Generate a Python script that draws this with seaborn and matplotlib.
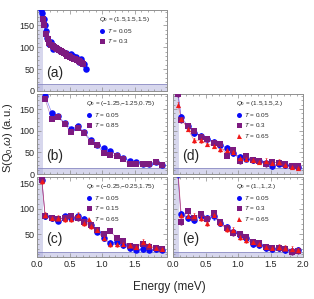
import matplotlib
matplotlib.use('Agg')
import matplotlib.pyplot as plt
import seaborn as sns
import pandas as pd
from matplotlib.lines import Line2D
from matplotlib.ticker import MultipleLocator

sns.set_style('ticks')
plt.rcParams['font.family'] = ['Liberation Sans', 'DejaVu Sans']
plt.rcParams['mathtext.fontset'] = 'custom'
plt.rcParams['mathtext.rm'] = 'Liberation Sans'
plt.rcParams['mathtext.it'] = 'Liberation Sans:italic'

BLUE = '#0a0af8'
PURPLE = '#7d1a80'
RED = '#f01818'

# ---- panel (a) ----
e_a_blue = [0.06, 0.08, 0.10, 0.12, 0.14, 0.16, 0.18, 0.22, 0.24, 0.28, 0.32,
            0.36, 0.40, 0.44, 0.48, 0.52, 0.56, 0.60, 0.64, 0.68, 0.72, 0.75]
s_a_blue = [188, 178, 165, 150, 136, 120, 108, 113, 95, 100, 96,
            92, 89, 86, 82, 85, 80, 78, 67, 72, 62, 50]
e_a_purple = [0.09, 0.115, 0.14, 0.165, 0.19, 0.215, 0.24, 0.265, 0.29, 0.315,
              0.34, 0.365, 0.39, 0.415, 0.44, 0.465, 0.49, 0.515, 0.54, 0.565,
              0.59, 0.615, 0.64, 0.665, 0.69, 0.715]
s_a_purple = [165, 150, 130, 118, 110, 106, 103, 100, 98, 96,
              93, 91, 89, 86, 84, 81, 79, 77, 75, 73,
              72, 70, 68, 66, 64, 62]

# ---- panel (b) ----
e_b = [0.125, 0.225, 0.325, 0.425, 0.525, 0.625, 0.725, 0.825, 0.925, 1.025,
       1.125, 1.225, 1.325, 1.425, 1.525, 1.625, 1.725, 1.825, 1.925]
s_b_blue = [181, 142, 133, 119, 105, 111, 98, 78, 68, 59,
            53, 45, 36, 31, 27, 24, 24, 27, 21]
s_b_purple = [173, 127, 131, 116, 96, 107, 94, 75, 67, 49,
              45, 41, 34, 22, 22, 22, 23, 28, 20]

# ---- panels (c), (d), (e) share one energy grid ----
e_cde = [0.075, 0.125, 0.225, 0.325, 0.425, 0.525, 0.625, 0.725, 0.825, 0.925,
         1.025, 1.125, 1.225, 1.325, 1.425, 1.525, 1.625, 1.725, 1.825, 1.925]
s_c_blue = [158, 85, 82, 77, 85, 83, 85, 80, 68, 55,
            42, 33, 35, 28, 22, 19, 20, 19, 20, 19]
s_c_purple = [158, 86, 83, 80, 83, 85, 82, 75, 68, 58,
              50, 57, 42, 36, 27, 25, 30, 25, 22, 20]
s_c_red = [155, 88, 82, 82, 80, 80, 88, 72, 66, 58,
           42, 30, 30, 30, 28, 25, 35, 28, 22, 20]

s_d_blue = [192, 132, 112, 95, 88, 82, 75, 68, 60, 48,
            40, 35, 33, 30, 25, 18, 24, 20, 18, 16]
s_d_purple = [185, 125, 110, 100, 85, 80, 72, 70, 42, 55,
              30, 42, 32, 30, 22, 28, 25, 22, 18, 18]
s_d_red = [160, 128, 105, 78, 78, 70, 65, 58, 55, 50,
           38, 35, 32, 28, 30, 25, 28, 20, 17, 15]

s_e_blue = [168, 90, 82, 78, 85, 82, 85, 72, 65, 55,
            48, 42, 30, 28, 22, 20, 22, 18, 17, 18]
s_e_purple = [175, 75, 95, 82, 90, 80, 92, 75, 62, 52,
              50, 45, 35, 32, 25, 22, 22, 20, 15, 16]
s_e_red = [180, 88, 85, 85, 82, 72, 88, 72, 60, 58,
           45, 38, 35, 30, 24, 22, 24, 22, 20, 18]

q_titles = ['(1.5,1.5,1.5)', '(\u22121.25,\u22121.25,0.75)', '(\u22120.25,\u22120.25,1.75)',
            '(1.5,1.5,2.)', '(1.,1.,2.)']
temps_a = ['0.05', '0.3']
temps_b = ['0.05', '0.85']
temps_c = ['0.05', '0.15', '0.65']
temps_d = ['0.05', '0.3', '0.65']
temps_e = ['0.05', '0.3', '0.65']

STYLE = [(BLUE, 'o', 22), (PURPLE, 's', 16), (RED, '^', 14)]

W, H = 314, 299
fig = plt.figure(figsize=(W / 100, H / 100), dpi=100)


def box(l, t, r, b):
    return [l / W, 1 - b / H, (r - l) / W, (b - t) / H]


def panel(rect, series, temps, title, label, ylim, err, ylabels=True, xlabels=None,
          lx=0.45):
    ax = fig.add_axes(rect)
    ax.axvspan(0, 0.09, color='#a8a8d8', alpha=0.45, lw=0, zorder=0)
    ax.axhspan(ylim[0], 15, color='#a8a8d8', alpha=0.45, lw=0, zorder=0)
    ax.axhline(15, color='#8c8cc4', lw=0.6, zorder=0)
    handles = []
    for (x, y), t, (c, m, s) in zip(series, temps, STYLE):
        df = pd.DataFrame({'E': x, 'S': y})
        sns.lineplot(data=df, x='E', y='S', ax=ax, color=c, lw=0.5, alpha=0.5,
                     legend=False, zorder=2)
        ax.errorbar(x, y, yerr=err, fmt='none', ecolor=c, elinewidth=0.6,
                    capsize=0.8, capthick=0.5, alpha=0.7, zorder=2)
        sns.scatterplot(data=df, x='E', y='S', ax=ax, color=c, marker=m, s=s,
                        linewidth=0, legend=False, zorder=3)
        handles.append(Line2D([], [], color=c, marker=m, ls='none',
                              markersize=3.6, markeredgewidth=0,
                              label='$T$ = ' + t))
    ax.set_xlim(0, 2.0)
    ax.set_ylim(*ylim)
    ax.xaxis.set_major_locator(MultipleLocator(0.5))
    ax.xaxis.set_minor_locator(MultipleLocator(0.1))
    ax.yaxis.set_major_locator(MultipleLocator(50))
    ax.yaxis.set_minor_locator(MultipleLocator(10))
    ax.tick_params(which='both', direction='in', top=True, right=True,
                   color='#888888', width=0.5, labelsize=6.5, pad=2)
    ax.tick_params(which='major', length=2.6)
    ax.tick_params(which='minor', length=1.4)
    for sp in ax.spines.values():
        sp.set_color('#909090')
        sp.set_linewidth(0.7)
    ax.set_xlabel('')
    ax.set_ylabel('')
    if not ylabels:
        ax.set_yticklabels([])
    if xlabels is None:
        ax.set_xticklabels([])
    else:
        ax.set_xticks([0, 0.5, 1.0, 1.5, 2.0])
        ax.set_xticklabels(xlabels)
    ax.text(0.07, 0.22, label, transform=ax.transAxes, fontsize=10,
            va='center', ha='left')
    ax.legend(handles=handles, title='$Q_0$ = ' + title, loc='upper left',
              bbox_to_anchor=(lx, 0.99), frameon=False, fontsize=4.6,
              title_fontsize=4.6, handletextpad=0.3, labelspacing=0.4,
              handlelength=1.0, borderpad=0.2, alignment='left')
    return ax


panel(box(37, 10, 167, 91), [(e_a_blue, s_a_blue), (e_a_purple, s_a_purple)],
      temps_a, q_titles[0], '(a)', (0, 185), 3, lx=0.44)
panel(box(37, 94, 167, 174), [(e_b, s_b_blue), (e_b, s_b_purple)],
      temps_b, q_titles[1], '(b)', (0, 185), 3, lx=0.34)
panel(box(37, 177, 167, 257), [(e_cde, s_c_blue), (e_cde, s_c_purple), (e_cde, s_c_red)],
      temps_c, q_titles[2], '(c)', (5, 163), 5,
      xlabels=['0.0', '0.5', '1.0', '1.5', ''], lx=0.34)
panel(box(173, 94, 303, 174), [(e_cde, s_d_blue), (e_cde, s_d_purple), (e_cde, s_d_red)],
      temps_d, q_titles[3], '(d)', (0, 185), 6, ylabels=False, lx=0.45)
panel(box(173, 177, 303, 257), [(e_cde, s_e_blue), (e_cde, s_e_purple), (e_cde, s_e_red)],
      temps_e, q_titles[4], '(e)', (5, 163), 6, ylabels=False,
      xlabels=['0.0', '0.5', '1.0', '1.5', '2.0'], lx=0.45)

fig.text(8 / W, 1 - 138 / H, r'S(Q$_0$,$\omega$) (a.u.)', rotation=90,
         ha='center', va='center', fontsize=8)
fig.text(169 / W, 1 - 287 / H, 'Energy (meV)', ha='center', va='center',
         fontsize=8.5)

fig.savefig('out.png', dpi=100)
